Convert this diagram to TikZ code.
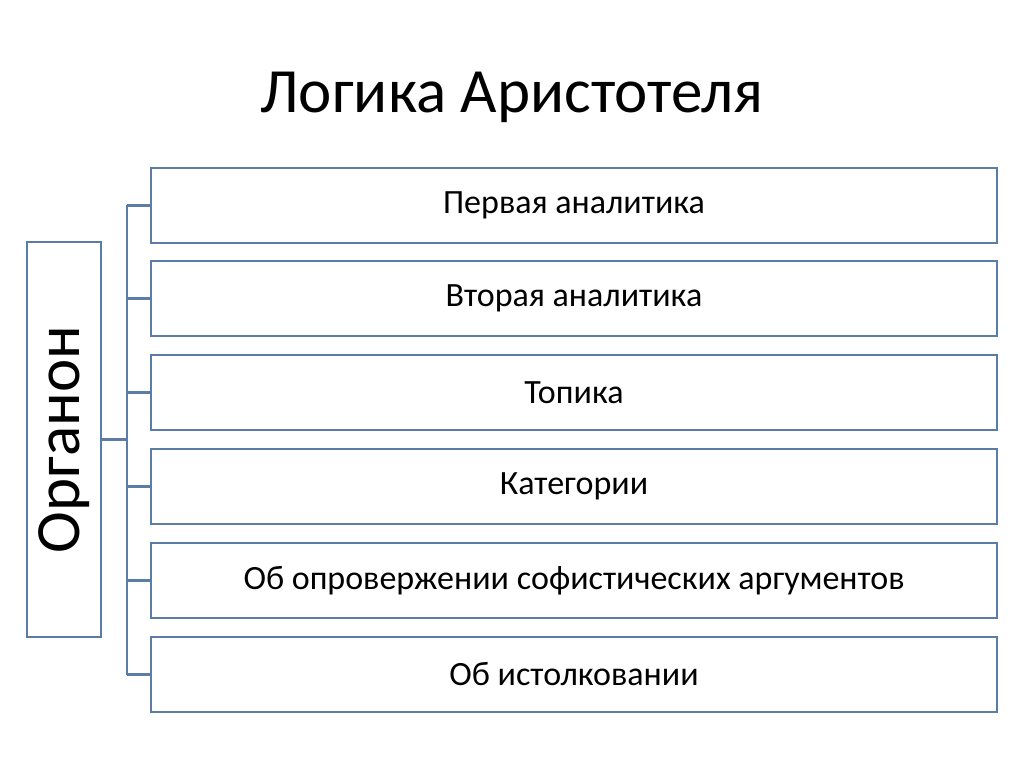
\documentclass[tikz,border=0pt]{standalone}
\usepackage{fontspec}
\setmainfont{Carlito}
\usetikzlibrary{positioning}
\definecolor{boxline}{HTML}{5A7CA6}
\tikzset{
    item/.style={draw=boxline, line width=2.2pt, minimum width=846pt, minimum height=75pt, font=\fontsize{34}{40}\selectfont},
    link/.style={draw=boxline, line width=2.2pt}
}
\begin{document}
\begin{tikzpicture}[x=1pt, y=-1pt]
    \useasboundingbox (0,0) rectangle (1024,767);
    \node (title) at (512,97) {\fontsize{63}{70}\selectfont Логика Аристотеля};
    \node[draw=boxline, line width=2.2pt, minimum width=395pt, minimum height=74pt, rotate=90,
          font=\fontsize{63}{70}\selectfont] (org) at (64,439.5) {Органон};
    \foreach \n/\y/\t in {1/205.5/Первая аналитика, 2/298.5/Вторая аналитика, 3/392.5/Топика,
        4/486.5/Категории, 5/580.5/Об опровержении софистических аргументов, 6/674.5/Об истолковании} {
        \node[item] (b\n) at (574,\y) {\t};
    }
    \coordinate (trunk) at (127,439.5);
    \draw[link] (org.south) -- (trunk);
    \draw[link] (trunk |- b1.west) -- (trunk |- b6.west);
    \foreach \n in {1,...,6} {\draw[link] (trunk |- b\n.west) -- (b\n.west);}
\end{tikzpicture}
\end{document}
